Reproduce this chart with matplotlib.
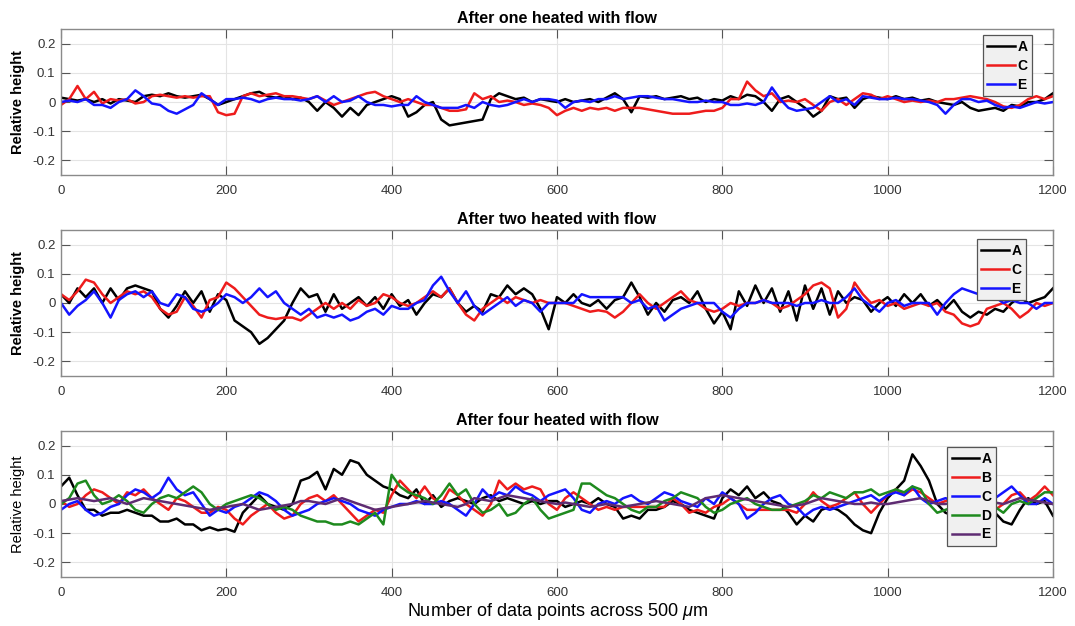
import numpy as np
import matplotlib
matplotlib.use("Agg")
import matplotlib.pyplot as plt

plt.rcParams["font.family"] = ["Liberation Sans", "DejaVu Sans"]
plt.rcParams["mathtext.fontset"] = "custom"
plt.rcParams["mathtext.rm"] = "Liberation Sans"
plt.rcParams["mathtext.it"] = "Liberation Sans:italic"

# sample index (every 10th data point)
x = np.arange(0, 1201, 10)

# ---------------- After one heated with flow ----------------
one_A = [0.015, 0.01, 0.005, 0.01, 0.0, 0.01, -0.005, 0.01, 0.005, 0.0,
         0.02, 0.025, 0.02, 0.03, 0.02, 0.015, 0.02, 0.025, 0.01, -0.01,
         0.0, 0.01, 0.02, 0.03, 0.035, 0.02, 0.015, 0.02, 0.01, 0.015,
         0.0, -0.03, 0.0, -0.02, -0.05, -0.02, -0.045, -0.01, 0.0, 0.01,
         0.02, 0.01, -0.05, -0.035, -0.01, 0.0, -0.06, -0.08, -0.075, -0.07,
         -0.065, -0.06, 0.01, 0.03, 0.02, 0.01, 0.015, 0.0, 0.01, 0.005,
         0.0, 0.01, 0.0, 0.005, 0.01, 0.0, 0.015, 0.03, 0.01, -0.035,
         0.02, 0.015, 0.02, 0.01, 0.015, 0.02, 0.01, 0.015, 0.0, 0.01,
         0.005, 0.02, 0.01, 0.025, 0.02, 0.0, -0.03, 0.01, 0.02, 0.0,
         -0.02, -0.05, -0.03, 0.02, 0.01, 0.015, -0.02, 0.01, 0.02, 0.015,
         0.01, 0.02, 0.01, 0.015, 0.005, 0.01, 0.0, -0.005, -0.01, 0.0,
         -0.02, -0.03, -0.025, -0.02, -0.03, -0.01, -0.015, 0.0, 0.0, 0.01, 0.03]
one_C = [-0.01, 0.01, 0.055, 0.01, 0.035, -0.005, 0.01, 0.005, 0.01, -0.005,
         0.0, 0.02, 0.025, 0.02, 0.015, 0.02, 0.015, 0.02, 0.02, -0.035,
         -0.045, -0.04, 0.02, 0.03, 0.02, 0.025, 0.03, 0.02, 0.02, 0.015,
         0.01, 0.02, 0.005, -0.01, 0.0, 0.01, 0.02, 0.03, 0.035, 0.02,
         0.01, 0.0, 0.01, 0.0, -0.01, -0.01, -0.02, -0.03, -0.03, -0.025,
         0.03, 0.01, 0.02, 0.0, 0.005, 0.0, -0.01, -0.005, -0.01, -0.02,
         -0.045, -0.03, -0.02, -0.03, -0.02, -0.025, -0.02, -0.03, -0.02, -0.02,
         -0.02, -0.025, -0.03, -0.035, -0.04, -0.04, -0.04, -0.035, -0.03, -0.03,
         -0.02, 0.01, 0.01, 0.07, 0.04, 0.02, 0.03, 0.0, 0.005, 0.0,
         0.01, -0.01, -0.03, 0.0, 0.01, -0.01, 0.01, 0.03, 0.025, 0.01,
         0.02, 0.01, 0.0, 0.005, 0.0, 0.005, 0.0, 0.01, 0.01, 0.015,
         0.02, 0.015, 0.01, 0.0, -0.015, -0.02, -0.01, 0.01, 0.02, 0.01, 0.02]
one_E = [0.0, 0.005, 0.0, 0.01, -0.01, -0.01, -0.02, 0.0, 0.01, 0.04,
         0.02, -0.005, -0.01, -0.03, -0.04, -0.025, -0.01, 0.03, 0.01, -0.01,
         0.01, 0.01, 0.015, 0.01, 0.0, 0.01, 0.015, 0.01, 0.01, 0.005,
         0.01, 0.02, 0.0, 0.02, 0.0, 0.005, 0.02, 0.0, -0.01, -0.01,
         -0.015, -0.01, -0.01, 0.02, 0.0, -0.01, -0.02, -0.02, -0.02, -0.01,
         -0.02, 0.0, -0.01, -0.015, -0.01, 0.0, 0.01, 0.0, 0.01, 0.01,
         0.005, -0.02, 0.0, 0.005, 0.0, 0.01, 0.01, 0.02, 0.01, 0.015,
         0.02, 0.02, 0.015, 0.01, 0.01, 0.005, 0.0, 0.0, 0.005, 0.0,
         0.0, -0.01, -0.01, -0.005, -0.01, 0.0, 0.05, 0.01, -0.02, -0.03,
         -0.025, -0.02, 0.0, 0.02, 0.0, 0.01, -0.01, 0.02, 0.015, 0.01,
         0.01, 0.015, 0.01, 0.01, 0.005, 0.0, -0.01, -0.04, -0.01, 0.01,
         0.01, 0.0, 0.005, -0.01, -0.02, -0.015, -0.02, -0.01, 0.0, -0.005, 0.0]

# ---------------- After two heated with flow ----------------
two_A = [0.03, 0.0, 0.05, 0.02, 0.05, 0.0, 0.05, 0.01, 0.05, 0.06,
         0.05, 0.04, -0.02, -0.05, -0.01, 0.04, 0.0, 0.04, -0.03, 0.03,
         0.01, -0.06, -0.08, -0.1, -0.14, -0.12, -0.09, -0.06, 0.0, 0.05,
         0.02, 0.03, -0.03, 0.03, -0.02, 0.0, 0.02, -0.01, 0.02, -0.02,
         0.03, -0.01, 0.01, -0.04, 0.0, 0.03, 0.02, 0.05, 0.0, -0.03,
         -0.01, -0.03, 0.03, 0.02, 0.06, 0.03, 0.05, 0.03, -0.02, -0.09,
         0.02, 0.0, 0.03, 0.0, -0.01, 0.01, -0.02, 0.01, 0.02, 0.07,
         0.02, -0.04, 0.0, -0.03, 0.01, 0.02, 0.0, 0.04, -0.02, -0.07,
         -0.03, -0.09, 0.04, -0.01, 0.06, 0.0, 0.05, -0.03, 0.04, -0.06,
         0.06, -0.02, 0.05, -0.04, 0.04, 0.0, 0.02, 0.01, -0.03, 0.0,
         0.02, -0.01, 0.03, 0.0, 0.03, -0.01, 0.01, -0.02, 0.01, -0.03,
         -0.05, -0.03, -0.04, -0.02, -0.03, 0.0, 0.02, 0.0, 0.01, 0.02, 0.05]
two_C = [0.03, 0.01, 0.04, 0.08, 0.07, 0.03, 0.0, 0.02, 0.04, 0.03,
         0.04, 0.02, -0.02, -0.04, -0.03, 0.02, -0.01, -0.05, 0.01, 0.02,
         0.07, 0.05, 0.02, -0.01, -0.04, -0.05, -0.055, -0.05, -0.05, -0.06,
         -0.04, -0.02, 0.0, -0.02, 0.0, -0.02, 0.01, -0.01, 0.0, 0.03,
         0.02, 0.0, -0.01, 0.0, 0.02, 0.04, 0.02, 0.05, 0.0, -0.04,
         -0.06, -0.02, 0.0, 0.02, 0.0, 0.02, 0.01, 0.0, 0.01, 0.0,
         0.0, 0.0, -0.01, -0.02, -0.03, -0.025, -0.03, -0.05, -0.03, 0.0,
         0.03, 0.0, -0.02, 0.0, 0.02, 0.04, 0.01, 0.0, -0.02, -0.03,
         -0.02, 0.0, -0.01, 0.0, 0.0, 0.01, 0.0, -0.02, -0.01, 0.01,
         0.03, 0.06, 0.07, 0.05, -0.05, -0.02, 0.07, 0.03, 0.0, 0.01,
         -0.01, 0.0, -0.02, -0.01, 0.0, -0.01, 0.0, -0.03, -0.04, -0.07,
         -0.08, -0.07, -0.02, -0.01, 0.0, -0.02, -0.05, -0.03, 0.0, -0.01, 0.0]
two_E = [0.0, -0.04, -0.01, 0.01, 0.04, 0.0, -0.05, 0.01, 0.03, 0.04,
         0.02, 0.04, 0.0, -0.01, 0.03, 0.02, -0.02, -0.03, -0.02, 0.0,
         0.03, 0.02, 0.0, 0.02, 0.05, 0.02, 0.04, 0.0, -0.02, -0.04,
         -0.02, -0.05, -0.04, -0.05, -0.04, -0.06, -0.05, -0.03, -0.02, -0.04,
         -0.01, -0.02, -0.02, 0.0, 0.01, 0.06, 0.09, 0.04, 0.0, 0.04,
         -0.01, -0.04, -0.02, 0.0, 0.02, -0.01, 0.01, 0.0, -0.03, 0.0,
         0.0, 0.0, 0.0, 0.03, 0.02, 0.02, 0.02, 0.02, 0.02, 0.0,
         0.01, -0.02, -0.01, -0.06, -0.04, -0.02, -0.01, 0.0, 0.0, 0.0,
         -0.03, -0.05, -0.02, 0.0, 0.0, 0.01, 0.0, 0.0, 0.0, -0.01,
         0.0, 0.0, 0.01, 0.0, 0.0, 0.02, 0.05, 0.01, -0.01, -0.03,
         0.0, 0.01, -0.01, 0.0, 0.0, 0.0, -0.04, 0.0, 0.03, 0.05,
         0.04, 0.03, 0.02, 0.02, 0.0, 0.01, 0.0, 0.0, -0.02, 0.0, 0.0]

# ---------------- After four heated with flow ----------------
four_A = [0.06, 0.09, 0.03, -0.02, -0.02, -0.04, -0.03, -0.03, -0.02, -0.03,
          -0.04, -0.04, -0.06, -0.06, -0.05, -0.07, -0.07, -0.09, -0.08, -0.09,
          -0.085, -0.095, -0.03, 0.0, 0.03, 0.0, -0.01, -0.02, 0.0, 0.08,
          0.09, 0.11, 0.05, 0.12, 0.1, 0.15, 0.14, 0.1, 0.08, 0.06,
          0.05, 0.03, 0.02, 0.05, 0.0, 0.03, -0.01, 0.01, 0.02, 0.01,
          0.0, 0.02, 0.03, 0.01, 0.02, 0.01, 0.0, 0.01, 0.0, 0.01,
          0.01, -0.01, 0.0, 0.01, 0.0, 0.02, 0.0, -0.01, -0.05, -0.04,
          -0.05, -0.02, -0.02, -0.01, 0.01, 0.0, -0.02, -0.03, -0.04, -0.05,
          0.02, 0.05, 0.03, 0.06, 0.02, 0.04, 0.01, 0.0, -0.03, -0.07,
          -0.04, -0.06, -0.02, -0.01, -0.02, -0.04, -0.07, -0.09, -0.1, -0.03,
          0.02, 0.05, 0.08, 0.17, 0.13, 0.08, 0.0, -0.03, -0.04, -0.05,
          -0.04, -0.05, -0.04, -0.03, -0.06, -0.07, -0.02, 0.02, 0.0, 0.01, -0.04]
four_B = [0.01, -0.01, 0.0, 0.03, 0.05, 0.04, 0.02, 0.0, 0.04, 0.03,
          0.05, 0.02, 0.0, -0.02, 0.02, 0.01, -0.01, -0.03, -0.03, -0.01,
          -0.02, -0.05, -0.07, -0.04, -0.02, 0.0, -0.03, -0.05, -0.04, 0.0,
          0.02, 0.03, 0.01, 0.03, 0.0, -0.03, -0.06, -0.04, -0.02, -0.03,
          0.03, 0.08, 0.05, 0.02, 0.06, 0.02, 0.0, 0.05, 0.03, 0.0,
          -0.02, -0.04, 0.0, 0.08, 0.05, 0.07, 0.05, 0.06, 0.05, 0.0,
          -0.02, 0.02, 0.04, 0.02, 0.0, -0.02, -0.01, -0.02, -0.01, -0.01,
          -0.01, -0.01, -0.01, -0.01, 0.02, 0.0, -0.03, -0.02, -0.03, -0.01,
          0.0, 0.02, 0.0, -0.02, -0.02, -0.02, -0.02, -0.02, -0.02, -0.03,
          0.0, 0.04, 0.01, -0.01, 0.0, 0.02, 0.04, 0.0, -0.03, 0.0,
          0.03, 0.05, 0.03, 0.05, 0.04, 0.02, 0.0, 0.01, 0.02, 0.0,
          0.01, 0.0, -0.01, -0.02, 0.0, 0.03, 0.04, 0.01, 0.03, 0.06, 0.03]
four_C = [-0.02, 0.0, 0.01, -0.02, -0.04, -0.03, -0.01, 0.0, 0.03, 0.05,
          0.04, 0.02, 0.04, 0.09, 0.05, 0.03, 0.04, 0.0, -0.04, -0.02,
          -0.03, -0.01, 0.0, 0.02, 0.04, 0.03, 0.01, -0.02, -0.04, -0.03,
          -0.02, 0.0, 0.01, 0.02, 0.01, 0.0, -0.02, -0.03, -0.04, -0.02,
          -0.01, 0.0, 0.0, 0.01, 0.0, 0.0, 0.01, 0.0, -0.02, -0.04,
          0.0, 0.05, 0.02, 0.04, 0.03, 0.06, 0.04, 0.03, 0.01, 0.03,
          0.04, 0.05, 0.02, -0.02, -0.03, 0.0, 0.01, 0.0, 0.02, 0.03,
          0.01, 0.0, 0.02, 0.04, 0.03, 0.01, 0.0, -0.01, 0.02, 0.0,
          0.04, 0.02, 0.0, -0.05, -0.03, 0.0, 0.02, 0.03, 0.0, -0.01,
          -0.04, -0.02, -0.01, -0.02, -0.01, 0.0, 0.01, 0.02, 0.03, 0.01,
          0.03, 0.04, 0.03, 0.06, 0.02, 0.0, 0.01, 0.02, 0.01, 0.0,
          0.01, 0.02, 0.01, 0.02, 0.04, 0.06, 0.03, 0.0, 0.0, 0.02, 0.0]
four_D = [0.0, 0.02, 0.07, 0.08, 0.03, 0.0, 0.01, 0.03, 0.01, -0.02,
          -0.03, 0.0, 0.02, 0.03, 0.02, 0.04, 0.06, 0.04, 0.0, -0.02,
          0.0, 0.01, 0.02, 0.03, 0.02, 0.0, -0.02, -0.01, -0.02, -0.04,
          -0.05, -0.06, -0.06, -0.07, -0.07, -0.06, -0.07, -0.05, -0.03, -0.07,
          0.1, 0.06, 0.04, 0.03, 0.02, 0.0, 0.03, 0.07, 0.03, 0.05,
          0.0, -0.03, -0.02, 0.0, -0.04, -0.03, 0.0, 0.02, -0.02, -0.05,
          -0.04, -0.03, -0.02, 0.07, 0.07, 0.05, 0.03, 0.02, 0.0, -0.02,
          -0.03, -0.01, -0.01, 0.01, 0.02, 0.04, 0.03, 0.02, -0.01, -0.03,
          -0.02, 0.0, 0.01, 0.02, 0.0, -0.01, -0.02, -0.02, -0.01, 0.0,
          0.01, 0.03, 0.02, 0.04, 0.03, 0.02, 0.04, 0.04, 0.05, 0.03,
          0.04, 0.05, 0.04, 0.06, 0.05, 0.0, -0.03, -0.02, -0.01, 0.0,
          -0.01, 0.0, -0.01, -0.01, -0.03, 0.0, 0.01, 0.0, 0.02, 0.04, 0.04]
four_E = [0.01, 0.015, 0.02, 0.015, 0.01, 0.015, 0.02, 0.01, 0.0, 0.01,
          0.02, 0.015, 0.01, 0.005, 0.0, -0.005, -0.01, -0.015, -0.02, -0.015,
          -0.01, -0.005, 0.0, -0.01, -0.02, -0.015, -0.01, -0.005, 0.0, 0.01,
          0.01, 0.005, 0.0, 0.01, 0.02, 0.01, 0.0, -0.01, -0.02, -0.015,
          -0.01, -0.005, 0.0, 0.005, 0.01, 0.005, 0.0, -0.005, -0.01, 0.0,
          0.02, 0.015, 0.01, 0.02, 0.03, 0.025, 0.02, 0.015, 0.01, 0.005,
          0.0, 0.005, 0.0, -0.005, -0.01, -0.005, 0.0, -0.005, -0.01, -0.005,
          0.0, 0.005, 0.01, 0.005, 0.0, -0.005, -0.01, 0.005, 0.02, 0.025,
          0.03, 0.025, 0.02, 0.015, 0.01, 0.005, 0.0, -0.005, -0.01, -0.005,
          0.0, 0.01, 0.02, 0.015, 0.01, 0.005, 0.0, 0.0, 0.005, 0.0,
          0.0, 0.005, 0.01, 0.015, 0.02, 0.01, 0.0, 0.0, 0.005, 0.01,
          0.005, 0.0, 0.0, 0.005, 0.0, 0.01, 0.02, 0.015, 0.01, 0.005, 0.0]

BLACK, RED, BLUE, GREEN, PURPLE = "#000000", "#ee1c1c", "#1414ff", "#1e8a1e", "#5e2b72"

panels = [
    ("After one heated with flow", [(one_A, "A", BLACK), (one_C, "C", RED), (one_E, "E", BLUE)],
     True, (0.979, 0.959)),
    ("After two heated with flow", [(two_A, "A", BLACK), (two_C, "C", RED), (two_E, "E", BLUE)],
     True, (0.973, 0.938)),
    ("After four heated with flow", [(four_A, "A", BLACK), (four_B, "B", RED), (four_C, "C", BLUE),
                                     (four_D, "D", GREEN), (four_E, "E", PURPLE)],
     False, (0.943, 0.890)),
]

fig = plt.figure(figsize=(10.75, 6.26), dpi=100)
bottoms = [0.7204, 0.3994, 0.0783]

for (title, series, bold_label, anchor), b in zip(panels, bottoms):
    ax = fig.add_axes([0.0567, b, 0.9228, 0.2332])
    for y, lab, col in series:
        ax.plot(x, y, color=col, lw=1.8, label=lab)
    ax.set_xlim(0, 1200)
    ax.set_ylim(-0.25, 0.25)
    ax.set_xticks([0, 200, 400, 600, 800, 1000, 1200])
    ax.set_yticks([-0.2, -0.1, 0, 0.1, 0.2])
    ax.set_yticklabels(["-0.2", "-0.1", "0", "0.1", "0.2"])
    ax.grid(True, color="#e4e4e4", lw=0.8)
    ax.set_axisbelow(True)
    for s in ax.spines.values():
        s.set_color("#8a8a8a")
        s.set_linewidth(1.0)
    ax.tick_params(direction="in", length=6.5, width=0.8, color="#555555",
                   top=True, right=True, labelsize=9.5, labelcolor="#333333")
    ax.tick_params(axis="x", pad=7)
    ax.tick_params(axis="y", pad=4)
    ax.set_title(title, fontsize=11.5, fontweight="bold", pad=4)
    ax.set_ylabel("Relative height", fontsize=10.5,
                  fontweight="bold" if bold_label else "normal", labelpad=5)
    leg = ax.legend(loc="upper right", bbox_to_anchor=anchor,
                    prop={"weight": "bold", "size": 10},
                    handlelength=2.0, handletextpad=0.15, borderpad=0.35,
                    labelspacing=0.35, borderaxespad=0.0, fancybox=False,
                    framealpha=1.0)
    leg.get_frame().set_facecolor("#f0f0f0")
    leg.get_frame().set_edgecolor("#555555")
    leg.get_frame().set_linewidth(0.9)
    last = ax

last.set_xlabel(r"Number of data points across 500 $\mu$m", fontsize=13, labelpad=2)

fig.savefig("out.png", dpi=100)
